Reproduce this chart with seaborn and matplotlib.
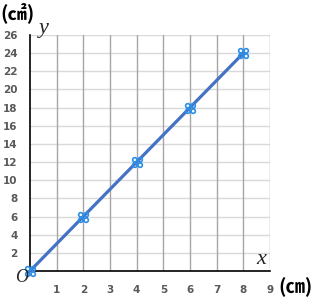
import matplotlib
matplotlib.use("Agg")
import matplotlib.pyplot as plt
from matplotlib.path import Path
import seaborn as sns
import pandas as pd
import numpy as np

side_cm = [0, 2, 4, 6, 8]
area_cm2 = [0, 6, 12, 18, 24]
x_ticks = [1, 2, 3, 4, 5, 6, 7, 8, 9]
y_ticks = [2, 4, 6, 8, 10, 12, 14, 16, 18, 20, 22, 24, 26]

sns.set_theme(style="white")
plt.rcParams['font.family'] = ['DejaVu Sans']

df = pd.DataFrame({"x": side_cm, "y": area_cm2})

fig = plt.figure(figsize=(3.21, 3.06), dpi=100)
ax = fig.add_axes([30/321, 35/306, 240/321, 236/306])

# custom marker: four small loops (like the Excel cross marker)
circ = Path.circle((0, 0), 0.4)
parts = []
for dx, dy in [(-0.5, -0.5), (0.5, -0.5), (-0.5, 0.5), (0.5, 0.5)]:
    parts.append(Path(circ.vertices + np.array([dx, dy]), circ.codes))
marker_path = Path.make_compound_path(*parts)

sns.lineplot(data=df, x="x", y="y", ax=ax, color="#4472C4", linewidth=2.3,
             marker=marker_path, markersize=7, markerfacecolor="none",
             markeredgecolor="#2F8FE6", markeredgewidth=1.2, zorder=5, clip_on=False)

ax.set_xlim(0, 9)
ax.set_ylim(0, 26)
ax.set_xticks(x_ticks)
ax.set_yticks(y_ticks)
ax.set_xticklabels([str(t) for t in x_ticks])
ax.set_yticklabels([str(t) for t in y_ticks])
ax.tick_params(axis="both", length=0, labelsize=7.5, labelcolor="#595959")
ax.tick_params(axis="x", pad=10)
ax.tick_params(axis="y", pad=9)
for lab in ax.get_xticklabels() + ax.get_yticklabels():
    lab.set_fontweight("bold")

for yv in y_ticks:
    ax.axhline(yv, color="#D9D9D9", linewidth=1.0, zorder=1)
for xv in x_ticks:
    ax.axvline(xv, color="#A6A6A6", linewidth=1.0, zorder=1)

ax.set_xlabel("")
ax.set_ylabel("")
for s in ["top", "right"]:
    ax.spines[s].set_visible(False)
ax.spines["left"].set_color("black")
ax.spines["bottom"].set_color("black")
ax.spines["left"].set_linewidth(1.2)
ax.spines["bottom"].set_linewidth(1.2)

cjk = ['Noto Sans CJK JP', 'DejaVu Sans']
fig.text(18/321, 1 - 13/306, "(㎠)", family=cjk, fontsize=14, fontweight="bold",
         ha="center", va="center", color="black")
fig.text(296/321, 1 - 287/306, "(㎝)", family=cjk, fontsize=14, fontweight="bold",
         ha="center", va="center", color="black")
fig.text(44/321, 1 - 28/306, "y", family="Liberation Serif", style="italic", fontsize=16,
         ha="center", va="center")
fig.text(261/321, 1 - 259/306, "x", family="Liberation Serif", style="italic", fontsize=16,
         ha="center", va="center")
fig.text(22/321, 1 - 277/306, "O", family="Liberation Serif", style="italic", fontsize=13,
         ha="center", va="center")

fig.savefig("out.png", dpi=100)
